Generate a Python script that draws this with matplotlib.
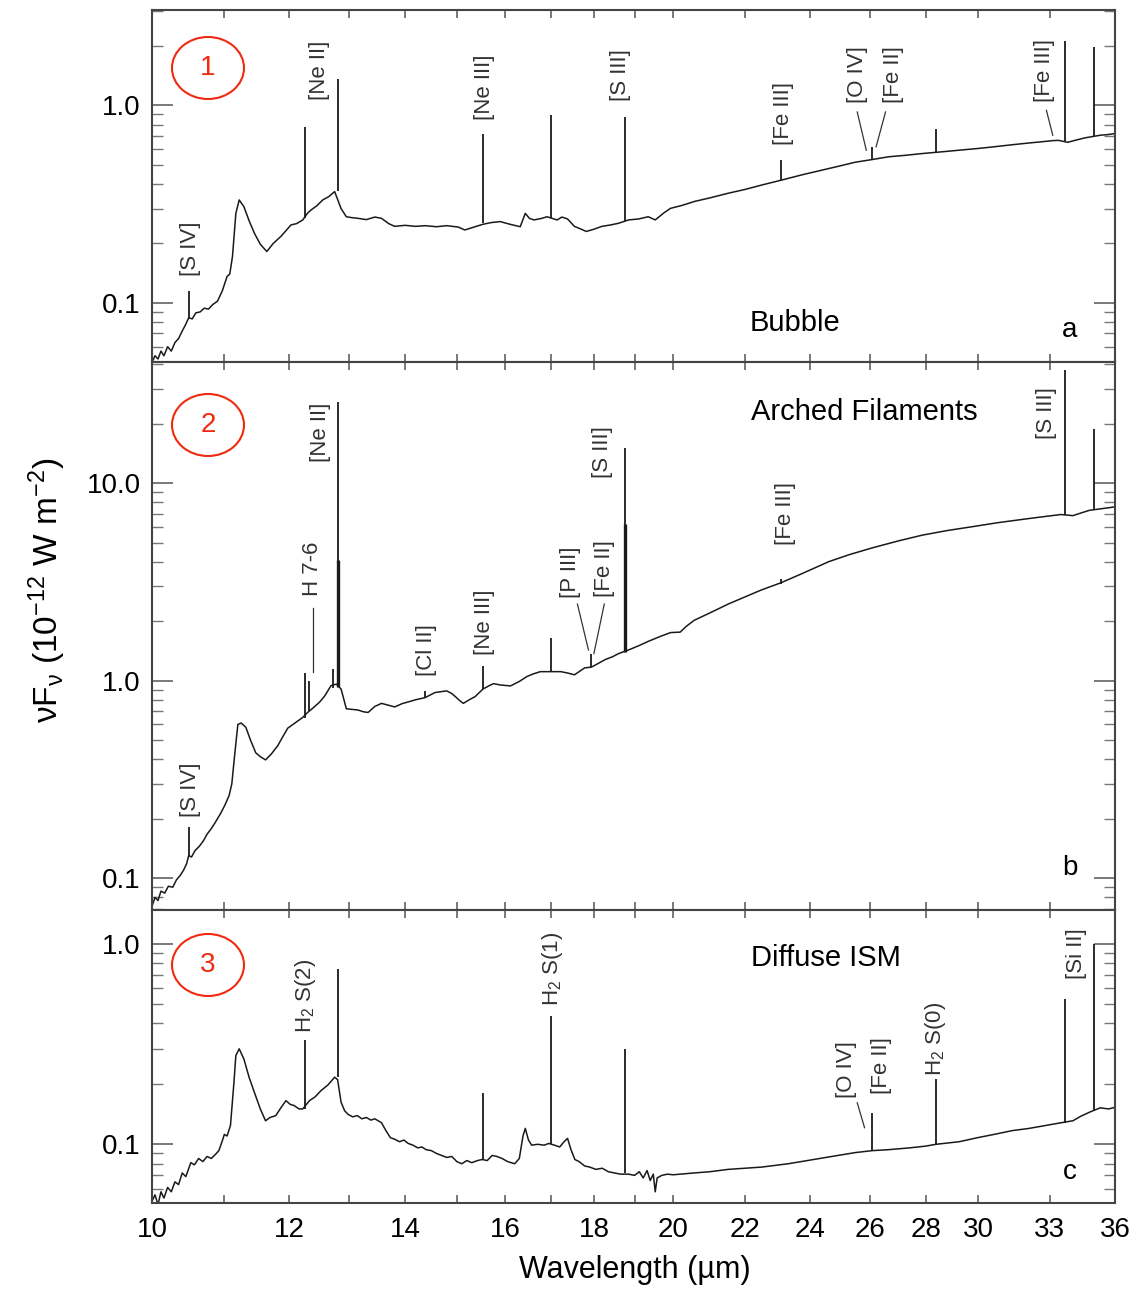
import numpy as np
import matplotlib
matplotlib.use("Agg")
import matplotlib.pyplot as plt
from matplotlib.patches import Ellipse
from matplotlib.ticker import FixedLocator, FixedFormatter, LogLocator, NullLocator, NullFormatter

plt.rcParams["font.family"] = ["Liberation Sans", "DejaVu Sans"]
plt.rcParams["mathtext.fontset"] = "custom"
plt.rcParams["mathtext.rm"] = "Liberation Sans"
plt.rcParams["mathtext.it"] = "Liberation Sans:italic"
plt.rcParams["mathtext.default"] = "regular"

# ---- panel a: Bubble ----
a_lam = [10.0, 10.04, 10.08, 10.12, 10.16, 10.21, 10.26, 10.31, 10.36, 10.41, 10.46, 10.50, 10.55,
         10.60, 10.66, 10.72, 10.78, 10.84, 10.91, 10.98, 11.05, 11.09, 11.13, 11.18, 11.23, 11.30,
         11.38, 11.46, 11.55, 11.65, 11.75, 11.87, 11.95, 12.03, 12.12, 12.22, 12.30, 12.36, 12.45,
         12.55, 12.65, 12.75, 12.86, 12.95, 13.05, 13.15, 13.30, 13.45, 13.57, 13.70, 13.81, 14.0,
         14.2, 14.38, 14.6, 14.8, 15.03, 15.16, 15.30, 15.53, 15.70, 15.89, 16.1, 16.32, 16.43,
         16.52, 16.62, 16.80, 16.91, 17.14, 17.25, 17.38, 17.54, 17.70, 17.82, 18.0, 18.19, 18.40,
         18.60, 18.85, 19.1, 19.35, 19.53, 19.75, 19.93, 20.25, 20.57, 21.0, 21.52, 22.0, 22.50,
         23.09, 23.74, 24.38, 25.0, 25.47, 26.07, 26.63, 27.2, 27.90, 28.6, 29.26, 30.0, 30.65,
         31.4, 32.11, 32.7, 33.14, 33.4, 33.8, 34.2, 34.6, 34.83, 35.30, 35.7, 36.0]
a_flux = [0.050, 0.054, 0.052, 0.057, 0.054, 0.060, 0.057, 0.063, 0.066, 0.072, 0.078, 0.084, 0.083,
          0.089, 0.090, 0.094, 0.093, 0.098, 0.102, 0.115, 0.136, 0.140, 0.172, 0.284, 0.332, 0.307,
          0.260, 0.225, 0.198, 0.182, 0.200, 0.217, 0.232, 0.248, 0.252, 0.263, 0.285, 0.296, 0.310,
          0.332, 0.345, 0.366, 0.300, 0.273, 0.270, 0.268, 0.264, 0.272, 0.268, 0.252, 0.244, 0.247,
          0.244, 0.246, 0.243, 0.246, 0.242, 0.234, 0.240, 0.250, 0.255, 0.258, 0.250, 0.243, 0.284,
          0.268, 0.263, 0.268, 0.273, 0.263, 0.272, 0.266, 0.244, 0.236, 0.230, 0.236, 0.244, 0.248,
          0.253, 0.263, 0.266, 0.273, 0.263, 0.285, 0.301, 0.312, 0.326, 0.340, 0.359, 0.375, 0.395,
          0.418, 0.445, 0.470, 0.495, 0.515, 0.532, 0.549, 0.558, 0.571, 0.582, 0.593, 0.605, 0.617,
          0.632, 0.645, 0.655, 0.663, 0.665, 0.650, 0.668, 0.685, 0.692, 0.706, 0.712, 0.720]
a_line_lam = [10.50, 12.26, 12.81, 15.53, 17.01, 18.77, 23.09, 26.07, 28.37, 33.67, 34.99]
a_line_base = [0.084, 0.27, 0.37, 0.253, 0.27, 0.26, 0.418, 0.532, 0.575, 0.66, 0.70]
a_line_peak = [0.115, 0.777, 1.36, 0.72, 0.89, 0.874, 0.528, 0.617, 0.763, 2.13, 1.97]

# ---- panel b: Arched Filaments ----
b_lam = [10.0, 10.04, 10.08, 10.12, 10.17, 10.22, 10.28, 10.33, 10.38, 10.43, 10.47, 10.50, 10.54,
         10.59, 10.65, 10.71, 10.76, 10.82, 10.88, 10.96, 11.02, 11.08, 11.12, 11.16, 11.21, 11.26,
         11.33, 11.40, 11.48, 11.55, 11.63, 11.72, 11.82, 11.90, 11.98, 12.10, 12.22, 12.30, 12.41,
         12.50, 12.58, 12.69, 12.78, 12.86, 12.95, 13.05, 13.15, 13.25, 13.33, 13.45, 13.57, 13.70,
         13.81, 13.95, 14.06, 14.2, 14.38, 14.57, 14.70, 14.80, 14.90, 14.97, 15.05, 15.13, 15.25,
         15.37, 15.53, 15.65, 15.75, 15.9, 16.11, 16.3, 16.47, 16.6, 16.76, 17.0, 17.23, 17.40,
         17.54, 17.65, 17.78, 17.94, 18.1, 18.28, 18.45, 18.60, 18.85, 19.1, 19.35, 19.65, 19.93,
         20.19, 20.35, 20.57, 21.0, 21.52, 22.0, 22.50, 23.09, 23.74, 24.6, 25.3, 26.07, 27.0,
         27.86, 28.8, 29.80, 30.8, 31.92, 32.7, 33.50, 34.04, 34.40, 34.80, 35.30, 35.7, 36.0]
b_flux = [0.072, 0.080, 0.077, 0.086, 0.084, 0.091, 0.090, 0.098, 0.103, 0.110, 0.118, 0.130, 0.128,
          0.138, 0.145, 0.155, 0.167, 0.178, 0.192, 0.214, 0.235, 0.262, 0.300, 0.413, 0.600, 0.610,
          0.580, 0.500, 0.431, 0.412, 0.397, 0.425, 0.468, 0.520, 0.575, 0.612, 0.651, 0.690, 0.736,
          0.780, 0.834, 0.944, 0.960, 0.906, 0.720, 0.715, 0.710, 0.695, 0.690, 0.740, 0.767, 0.750,
          0.736, 0.765, 0.780, 0.800, 0.820, 0.870, 0.880, 0.887, 0.860, 0.830, 0.795, 0.767, 0.800,
          0.830, 0.906, 0.940, 0.965, 0.950, 0.940, 0.990, 1.05, 1.08, 1.11, 1.11, 1.11, 1.09,
          1.07, 1.11, 1.16, 1.17, 1.22, 1.28, 1.32, 1.37, 1.43, 1.50, 1.58, 1.67, 1.75,
          1.76, 1.88, 2.02, 2.20, 2.44, 2.65, 2.88, 3.13, 3.48, 4.00, 4.35, 4.70, 5.10,
          5.45, 5.75, 6.02, 6.30, 6.57, 6.75, 6.93, 6.84, 7.05, 7.28, 7.40, 7.50, 7.58]
b_line_lam = [10.50, 12.26, 12.33, 12.73, 12.80, 14.38, 15.53, 17.01, 17.94, 18.77, 23.09, 33.67, 34.99]
b_line_base = [0.13, 0.65, 0.70, 0.92, 0.93, 0.82, 0.906, 1.11, 1.17, 1.40, 3.10, 6.9, 7.3]
b_line_peak = [0.181, 1.09, 1.00, 1.15, 25.6, 0.887, 1.18, 1.65, 1.37, 15.0, 3.25, 37.2, 18.8]
b_broad_lam = [12.80, 18.77]
b_broad_base = [0.93, 1.40]
b_broad_top = [4.1, 6.2]

# ---- panel c: Diffuse ISM ----
c_lam = [10.0, 10.04, 10.08, 10.12, 10.16, 10.21, 10.26, 10.31, 10.36, 10.41, 10.46, 10.53, 10.58,
         10.64, 10.70, 10.76, 10.82, 10.88, 10.93, 10.98, 11.01, 11.05, 11.10, 11.15, 11.18, 11.23,
         11.30, 11.38, 11.46, 11.55, 11.63, 11.70, 11.79, 11.87, 11.95, 12.02, 12.08, 12.16, 12.22,
         12.33, 12.42, 12.52, 12.64, 12.75, 12.80, 12.86, 12.92, 12.98, 13.06, 13.14, 13.22, 13.30,
         13.38, 13.45, 13.57, 13.65, 13.73, 13.81, 13.90, 13.98, 14.06, 14.15, 14.24, 14.32, 14.40,
         14.50, 14.60, 14.70, 14.80, 14.90, 15.00, 15.10, 15.20, 15.30, 15.42, 15.51, 15.62, 15.72,
         15.82, 15.93, 16.05, 16.20, 16.30, 16.38, 16.43, 16.50, 16.57, 16.70, 16.85, 16.95, 17.08,
         17.20, 17.30, 17.38, 17.46, 17.55, 17.65, 17.78, 17.90, 18.05, 18.20, 18.35, 18.50, 18.65,
         18.85, 19.00, 19.12, 19.22, 19.32, 19.40, 19.48, 19.53, 19.58, 19.70, 19.85, 20.0, 20.57,
         21.0, 21.52, 22.0, 22.50, 23.31, 24.1, 24.9, 25.5, 26.07, 26.63, 27.4, 28.0, 28.37,
         29.26, 30.0, 30.65, 31.4, 32.11, 32.8, 33.5, 34.04, 34.4, 34.83, 35.3, 35.7, 36.0]
c_flux = [0.052, 0.056, 0.050, 0.058, 0.054, 0.061, 0.058, 0.065, 0.063, 0.072, 0.069, 0.081, 0.079,
          0.085, 0.082, 0.087, 0.085, 0.089, 0.093, 0.104, 0.112, 0.110, 0.124, 0.200, 0.277, 0.299,
          0.266, 0.215, 0.181, 0.150, 0.131, 0.136, 0.139, 0.152, 0.165, 0.158, 0.156, 0.150, 0.150,
          0.165, 0.172, 0.185, 0.198, 0.216, 0.210, 0.162, 0.147, 0.141, 0.137, 0.139, 0.134, 0.136,
          0.132, 0.134, 0.128, 0.117, 0.108, 0.106, 0.103, 0.105, 0.101, 0.099, 0.096, 0.097, 0.094,
          0.093, 0.090, 0.088, 0.086, 0.087, 0.082, 0.080, 0.083, 0.081, 0.083, 0.084, 0.083, 0.088,
          0.087, 0.085, 0.082, 0.080, 0.085, 0.110, 0.120, 0.105, 0.099, 0.100, 0.099, 0.101, 0.099,
          0.097, 0.103, 0.107, 0.094, 0.084, 0.082, 0.078, 0.077, 0.075, 0.076, 0.073, 0.072, 0.071,
          0.071, 0.070, 0.073, 0.068, 0.074, 0.066, 0.071, 0.058, 0.068, 0.070, 0.071, 0.0705, 0.072,
          0.073, 0.075, 0.076, 0.077, 0.080, 0.084, 0.088, 0.091, 0.093, 0.094, 0.096, 0.098, 0.100,
          0.103, 0.108, 0.112, 0.117, 0.120, 0.124, 0.128, 0.131, 0.138, 0.145, 0.152, 0.150, 0.153]
c_line_lam = [12.26, 12.81, 15.53, 17.01, 18.77, 26.07, 28.37, 33.67, 34.99]
c_line_base = [0.15, 0.216, 0.084, 0.100, 0.072, 0.093, 0.100, 0.128, 0.147]
c_line_peak = [0.329, 0.75, 0.181, 0.438, 0.299, 0.144, 0.211, 0.531, 1.0]

x_ticks = [10, 11, 12, 13, 14, 15, 16, 17, 18, 19, 20, 22, 24, 26, 28, 30, 33, 36]
x_labels = ["10", "", "12", "", "14", "", "16", "", "18", "", "20", "22", "24", "26", "28", "30", "33", "36"]

W, H = 1137, 1291
INK = "#1a1a1a"
RED = "#f02a10"


def setup(ax, ylim, yticks, ylabels, bottom_labels):
    ax.set_xscale("log")
    ax.set_yscale("log")
    ax.set_xlim(10, 36)
    ax.set_ylim(*ylim)
    ax.xaxis.set_major_locator(FixedLocator(x_ticks))
    ax.xaxis.set_major_formatter(FixedFormatter(x_labels))
    ax.xaxis.set_minor_locator(NullLocator())
    ax.yaxis.set_major_locator(FixedLocator(yticks))
    ax.yaxis.set_major_formatter(FixedFormatter(ylabels))
    ax.yaxis.set_minor_locator(LogLocator(base=10, subs=np.arange(2, 10)))
    ax.yaxis.set_minor_formatter(NullFormatter())
    ax.tick_params(axis="x", which="major", direction="in", top=True, bottom=True,
                   length=6, width=1.1, color="#555555", labelsize=20, pad=10,
                   labelbottom=bottom_labels)
    ax.tick_params(axis="y", which="major", direction="in", left=True, right=True,
                   length=15, width=1.1, color="#555555", labelsize=20, pad=8)
    ax.tick_params(axis="y", which="minor", direction="in", left=True, right=True,
                   length=8, width=1.0, color="#777777")
    for sp in ax.spines.values():
        sp.set_color("#444444")
        sp.set_linewidth(1.5)


def tag(ax, x, y, s):
    ax.text(x, y, s, rotation=90, ha="center", va="center", fontsize=16, color="#333333")


def lead(ax, x1, y1, x2, y2):
    ax.plot([x1, x2], [y1, y2], color="#333333", lw=0.9)


def circle(num, cx, cy):
    fig = plt.gcf()
    fig.add_artist(Ellipse((cx / W, 1 - cy / H), 72 / W, 62 / H, transform=fig.transFigure,
                           fill=False, ec=RED, lw=1.5))
    fig.text(cx / W, 1 - cy / H, num, color=RED, fontsize=20, ha="center", va="center")


def main() -> None:
    fig = plt.figure(figsize=(W / 100, H / 100), dpi=100)
    left, width = 152 / W, 963 / W
    ax_a = fig.add_axes([left, 1 - 362 / H, width, 352 / H])
    ax_b = fig.add_axes([left, 1 - 910 / H, width, 548 / H])
    ax_c = fig.add_axes([left, 1 - 1203 / H, width, 293 / H])

    # panel a
    ax_a.plot(a_lam, a_flux, color=INK, lw=1.1)
    ax_a.vlines(a_line_lam, a_line_base, a_line_peak, color=INK, lw=1.3)
    setup(ax_a, (0.0502, 3.04), [0.1, 1.0], ["0.1", "1.0"], False)
    tag(ax_a, 10.52, 0.189, "[S IV]")
    tag(ax_a, 12.50, 1.50, "[Ne II]")
    tag(ax_a, 15.56, 1.24, "[Ne III]")
    tag(ax_a, 18.66, 1.42, "[S III]")
    tag(ax_a, 23.17, 0.908, "[Fe III]")
    tag(ax_a, 25.55, 1.44, "[O IV]")
    tag(ax_a, 26.83, 1.44, "[Fe II]")
    tag(ax_a, 32.78, 1.50, "[Fe III]")
    lead(ax_a, 25.55, 0.926, 25.86, 0.593)
    lead(ax_a, 26.53, 0.926, 26.20, 0.617)
    lead(ax_a, 32.86, 0.944, 33.14, 0.706)
    ax_a.text(0.668, 0.111, "Bubble", transform=ax_a.transAxes, ha="center", va="center", fontsize=21)
    ax_a.text(0.953, 0.091, "a", transform=ax_a.transAxes, ha="center", va="center", fontsize=20)

    # panel b
    ax_b.plot(b_lam, b_flux, color=INK, lw=1.1)
    ax_b.vlines(b_line_lam, b_line_base, b_line_peak, color=INK, lw=1.3)
    ax_b.vlines(b_broad_lam, b_broad_base, b_broad_top, color=INK, lw=2.4)
    setup(ax_b, (0.069, 41.0), [0.1, 1.0, 10.0], ["0.1", "1.0", "10.0"], False)
    tag(ax_b, 10.52, 0.279, "[S IV]")
    tag(ax_b, 12.52, 18.0, "[Ne II]")
    tag(ax_b, 12.38, 3.68, "H 7-6")
    tag(ax_b, 14.41, 1.43, "[Cl II]")
    tag(ax_b, 15.56, 1.98, "[Ne III]")
    tag(ax_b, 17.45, 3.53, "[P III]")
    tag(ax_b, 18.25, 3.68, "[Fe II]")
    tag(ax_b, 18.20, 14.4, "[S III]")
    tag(ax_b, 23.22, 6.98, "[Fe III]")
    tag(ax_b, 32.86, 22.6, "[S III]")
    lead(ax_b, 12.38, 2.34, 12.38, 1.11)
    lead(ax_b, 17.61, 2.44, 17.87, 1.43)
    lead(ax_b, 18.25, 2.44, 18.00, 1.37)
    ax_b.text(0.740, 0.909, "Arched Filaments", transform=ax_b.transAxes, ha="center", va="center",
              fontsize=21)
    ax_b.text(0.953, 0.077, "b", transform=ax_b.transAxes, ha="center", va="center", fontsize=20)

    # panel c
    ax_c.plot(c_lam, c_flux, color=INK, lw=1.1)
    ax_c.vlines(c_line_lam, c_line_base, c_line_peak, color=INK, lw=1.3)
    setup(ax_c, (0.051, 1.47), [0.1, 1.0], ["0.1", "1.0"], True)
    tag(ax_c, 12.27, 0.552, "H$_2$ S(2)")
    tag(ax_c, 17.03, 0.75, "H$_2$ S(1)")
    tag(ax_c, 25.20, 0.237, "[O IV]")
    tag(ax_c, 26.40, 0.246, "[Fe II]")
    tag(ax_c, 28.37, 0.335, "H$_2$ S(0)")
    tag(ax_c, 34.20, 0.89, "[Si II]")
    lead(ax_c, 25.55, 0.161, 25.80, 0.121)
    ax_c.text(0.700, 0.836, "Diffuse ISM", transform=ax_c.transAxes, ha="center", va="center",
              fontsize=21)
    ax_c.text(0.953, 0.106, "c", transform=ax_c.transAxes, ha="center", va="center", fontsize=20)

    circle("1", 208, 68)
    circle("2", 208, 425)
    circle("3", 208, 965)

    fig.text(47 / W, 1 - 590 / H, "νF$_ν$ (10$^{-12}$ W m$^{-2}$)", rotation=90,
             ha="center", va="center", fontsize=24)
    fig.text(635 / W, 1 - 1270 / H, "Wavelength (µm)", ha="center", va="center", fontsize=22)

    fig.savefig("out.png", dpi=100)


if __name__ == "__main__":
    main()
